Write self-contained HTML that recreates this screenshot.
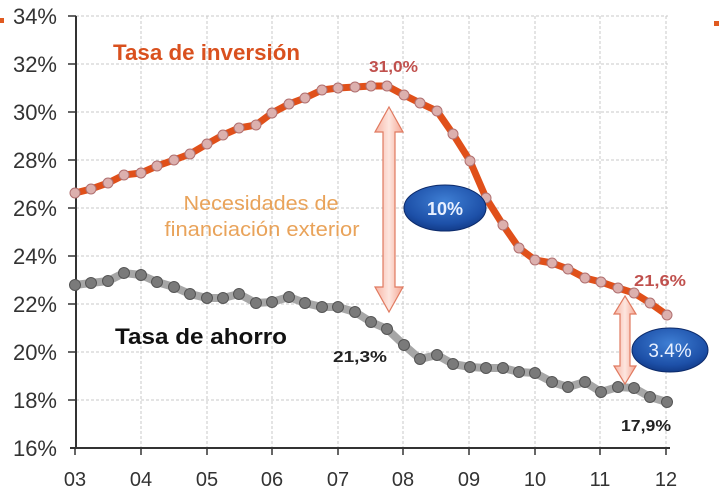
<!DOCTYPE html>
<html><head><meta charset="utf-8"><style>
html,body{margin:0;padding:0;background:#fff;}
svg{display:block;font-family:"Liberation Sans",Arial,sans-serif;}
</style></head><body>
<svg width="720" height="500" viewBox="0 0 720 500" xmlns="http://www.w3.org/2000/svg">
<defs>
<linearGradient id="ar" x1="0" x2="1" y1="0" y2="0">
<stop offset="0" stop-color="#f7b3a3"/><stop offset="0.5" stop-color="#fde6df"/><stop offset="1" stop-color="#f4a592"/>
</linearGradient>
<radialGradient id="el" cx="0.5" cy="0.35" r="0.7">
<stop offset="0" stop-color="#3f7fd4"/><stop offset="0.7" stop-color="#1d50a8"/><stop offset="1" stop-color="#0f3580"/>
</radialGradient>
</defs>
<g stroke="#c8c8c8" stroke-dasharray="3,2" stroke-width="1">
<line x1="76" y1="16" x2="668" y2="16"/><line x1="76" y1="64" x2="668" y2="64"/><line x1="76" y1="112" x2="668" y2="112"/><line x1="76" y1="160" x2="668" y2="160"/><line x1="76" y1="208" x2="668" y2="208"/><line x1="76" y1="256" x2="668" y2="256"/><line x1="76" y1="304" x2="668" y2="304"/><line x1="76" y1="352" x2="668" y2="352"/><line x1="76" y1="400" x2="668" y2="400"/>
<line x1="141" y1="16" x2="141" y2="448"/><line x1="207" y1="16" x2="207" y2="448"/><line x1="272" y1="16" x2="272" y2="448"/><line x1="338" y1="16" x2="338" y2="448"/><line x1="403" y1="16" x2="403" y2="448"/><line x1="469" y1="16" x2="469" y2="448"/><line x1="535" y1="16" x2="535" y2="448"/><line x1="600" y1="16" x2="600" y2="448"/><line x1="666" y1="16" x2="666" y2="448"/>
</g>
<g stroke="#333" stroke-width="2">
<line x1="76" y1="16" x2="76" y2="449"/><line x1="70" y1="448" x2="670" y2="448"/>
</g>
<g stroke="#333" stroke-width="1.5">
<line x1="68" y1="16" x2="76" y2="16"/><line x1="68" y1="64" x2="76" y2="64"/><line x1="68" y1="112" x2="76" y2="112"/><line x1="68" y1="160" x2="76" y2="160"/><line x1="68" y1="208" x2="76" y2="208"/><line x1="68" y1="256" x2="76" y2="256"/><line x1="68" y1="304" x2="76" y2="304"/><line x1="68" y1="352" x2="76" y2="352"/><line x1="68" y1="400" x2="76" y2="400"/>
<line x1="75" y1="448" x2="75" y2="455"/><line x1="141" y1="448" x2="141" y2="455"/><line x1="207" y1="448" x2="207" y2="455"/><line x1="272" y1="448" x2="272" y2="455"/><line x1="338" y1="448" x2="338" y2="455"/><line x1="403" y1="448" x2="403" y2="455"/><line x1="469" y1="448" x2="469" y2="455"/><line x1="535" y1="448" x2="535" y2="455"/><line x1="600" y1="448" x2="600" y2="455"/><line x1="666" y1="448" x2="666" y2="455"/>
</g>
<g font-size="22" fill="#333" text-anchor="end">
<text x="57" y="24">34%</text><text x="57" y="72">32%</text><text x="57" y="120">30%</text><text x="57" y="168">28%</text><text x="57" y="216">26%</text><text x="57" y="264">24%</text><text x="57" y="312">22%</text><text x="57" y="360">20%</text><text x="57" y="408">18%</text><text x="57" y="456">16%</text>
</g>
<g font-size="20" fill="#333" text-anchor="middle">
<text x="75" y="486">03</text><text x="141" y="486">04</text><text x="207" y="486">05</text><text x="272" y="486">06</text><text x="338" y="486">07</text><text x="403" y="486">08</text><text x="469" y="486">09</text><text x="535" y="486">10</text><text x="600" y="486">11</text><text x="666" y="486">12</text>
</g>
<rect x="0" y="18" width="4" height="5" fill="#e05a20"/>
<rect x="714" y="21" width="5" height="5" fill="#e05a20"/>
<polyline fill="none" stroke="#a6a6a6" stroke-width="8" stroke-linejoin="round" points="75,285 91,283 108,281 124,273 141,275 157,282 174,287 190,294 207,298 223,298 239,294 256,303 272,302 289,297 305,303 322,307 338,307 355,312 371,322 387,329 404,345 420,359 437,355 453,364 470,367 486,368 503,368 519,372 535,373 552,382 568,387 585,382 601,392 618,387 634,388 650,397 667,402"/>
<g fill="#7a7a7a" stroke="#555" stroke-width="1">
<circle cx="75" cy="285" r="5.5"/><circle cx="91" cy="283" r="5.5"/><circle cx="108" cy="281" r="5.5"/><circle cx="124" cy="273" r="5.5"/><circle cx="141" cy="275" r="5.5"/><circle cx="157" cy="282" r="5.5"/><circle cx="174" cy="287" r="5.5"/><circle cx="190" cy="294" r="5.5"/><circle cx="207" cy="298" r="5.5"/><circle cx="223" cy="298" r="5.5"/><circle cx="239" cy="294" r="5.5"/><circle cx="256" cy="303" r="5.5"/><circle cx="272" cy="302" r="5.5"/><circle cx="289" cy="297" r="5.5"/><circle cx="305" cy="303" r="5.5"/><circle cx="322" cy="307" r="5.5"/><circle cx="338" cy="307" r="5.5"/><circle cx="355" cy="312" r="5.5"/><circle cx="371" cy="322" r="5.5"/><circle cx="387" cy="329" r="5.5"/><circle cx="404" cy="345" r="5.5"/><circle cx="420" cy="359" r="5.5"/><circle cx="437" cy="355" r="5.5"/><circle cx="453" cy="364" r="5.5"/><circle cx="470" cy="367" r="5.5"/><circle cx="486" cy="368" r="5.5"/><circle cx="503" cy="368" r="5.5"/><circle cx="519" cy="372" r="5.5"/><circle cx="535" cy="373" r="5.5"/><circle cx="552" cy="382" r="5.5"/><circle cx="568" cy="387" r="5.5"/><circle cx="585" cy="382" r="5.5"/><circle cx="601" cy="392" r="5.5"/><circle cx="618" cy="387" r="5.5"/><circle cx="634" cy="388" r="5.5"/><circle cx="650" cy="397" r="5.5"/><circle cx="667" cy="402" r="5.5"/>
</g>
<polyline fill="none" stroke="#e0501a" stroke-width="7" stroke-linejoin="round" points="75,193 91,189 108,183 124,175 141,173 157,166 174,160 190,154 207,144 223,135 239,128 256,125 272,113 289,104 305,98 322,90 338,88 355,87 371,86 387,86 404,95 420,103 437,111 453,134 470,161 486,198 503,225 519,248 535,260 552,263 568,269 585,278 601,282 618,288 634,293 650,303 667,315"/>
<g fill="#dcb0ae" stroke="#b07070" stroke-width="1">
<circle cx="75" cy="193" r="5"/><circle cx="91" cy="189" r="5"/><circle cx="108" cy="183" r="5"/><circle cx="124" cy="175" r="5"/><circle cx="141" cy="173" r="5"/><circle cx="157" cy="166" r="5"/><circle cx="174" cy="160" r="5"/><circle cx="190" cy="154" r="5"/><circle cx="207" cy="144" r="5"/><circle cx="223" cy="135" r="5"/><circle cx="239" cy="128" r="5"/><circle cx="256" cy="125" r="5"/><circle cx="272" cy="113" r="5"/><circle cx="289" cy="104" r="5"/><circle cx="305" cy="98" r="5"/><circle cx="322" cy="90" r="5"/><circle cx="338" cy="88" r="5"/><circle cx="355" cy="87" r="5"/><circle cx="371" cy="86" r="5"/><circle cx="387" cy="86" r="5"/><circle cx="404" cy="95" r="5"/><circle cx="420" cy="103" r="5"/><circle cx="437" cy="111" r="5"/><circle cx="453" cy="134" r="5"/><circle cx="470" cy="161" r="5"/><circle cx="486" cy="198" r="5"/><circle cx="503" cy="225" r="5"/><circle cx="519" cy="248" r="5"/><circle cx="535" cy="260" r="5"/><circle cx="552" cy="263" r="5"/><circle cx="568" cy="269" r="5"/><circle cx="585" cy="278" r="5"/><circle cx="601" cy="282" r="5"/><circle cx="618" cy="288" r="5"/><circle cx="634" cy="293" r="5"/><circle cx="650" cy="303" r="5"/><circle cx="667" cy="315" r="5"/>
</g>
<path d="M389,107 L403,132 L395,132 L395,287 L403,287 L389,312 L375,287 L383,287 L383,132 L375,132 Z" fill="url(#ar)" stroke="#e07a60" stroke-width="1.2"/>
<path d="M625,296 L636,314 L630,314 L630,366 L636,366 L625,384 L614,366 L620,366 L620,314 L614,314 Z" fill="url(#ar)" stroke="#e07a60" stroke-width="1.2"/>
<ellipse cx="445" cy="208" rx="41" ry="23" fill="url(#el)" stroke="#0c2a6a" stroke-width="1"/>
<text x="445" y="215" font-size="18" font-weight="bold" fill="#e8f0ff" text-anchor="middle">10%</text>
<ellipse cx="670" cy="350" rx="38" ry="22" fill="url(#el)" stroke="#0c2a6a" stroke-width="1"/>
<text x="670" y="357" font-size="19" fill="#e8f0ff" text-anchor="middle">3.4%</text>
<text x="113" y="60" font-size="22" font-weight="bold" fill="#d9501e" textLength="187" lengthAdjust="spacingAndGlyphs">Tasa de inversión</text>
<text x="115" y="344" font-size="22" font-weight="bold" fill="#111" textLength="172" lengthAdjust="spacingAndGlyphs">Tasa de ahorro</text>
<text x="261" y="210" font-size="20" fill="#e9a35a" text-anchor="middle" textLength="155" lengthAdjust="spacingAndGlyphs">Necesidades de</text>
<text x="262" y="236" font-size="20" fill="#e9a35a" text-anchor="middle" textLength="195" lengthAdjust="spacingAndGlyphs">financiación exterior</text>
<text x="369" y="72" font-size="16" font-weight="bold" fill="#c0504d" textLength="49" lengthAdjust="spacingAndGlyphs">31,0%</text>
<text x="634" y="286" font-size="16" font-weight="bold" fill="#c0504d" textLength="52" lengthAdjust="spacingAndGlyphs">21,6%</text>
<text x="333" y="362" font-size="16" font-weight="bold" fill="#222" textLength="54" lengthAdjust="spacingAndGlyphs">21,3%</text>
<text x="621" y="431" font-size="16" font-weight="bold" fill="#222" textLength="50" lengthAdjust="spacingAndGlyphs">17,9%</text>
</svg>
</body></html>
